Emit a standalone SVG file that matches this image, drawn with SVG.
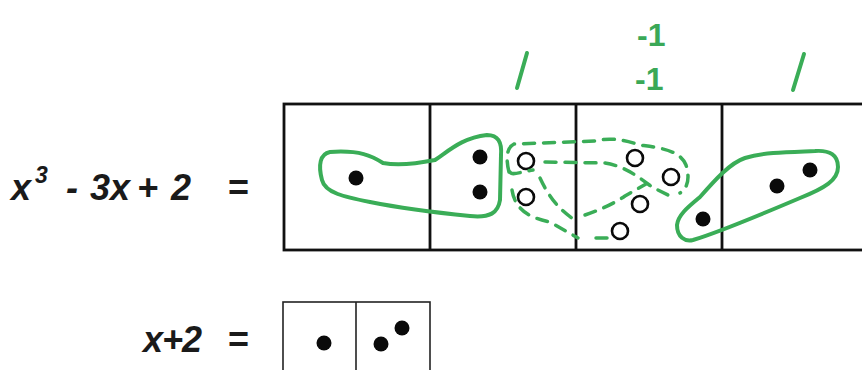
<svg xmlns="http://www.w3.org/2000/svg" width="862" height="370" viewBox="0 0 862 370">
<style>
.eq{font-family:"Liberation Sans",Arial,sans-serif;font-weight:bold;font-style:italic;font-size:36px;fill:#1a1a1a}
.eqn{font-family:"Liberation Sans",Arial,sans-serif;font-weight:bold;font-size:36px;fill:#1a1a1a}
.gt{font-family:"Liberation Sans",Arial,sans-serif;font-weight:bold;font-size:32px;fill:#3aa857}
.box{fill:none;stroke:#111;stroke-width:2.8}
.box2{fill:none;stroke:#222;stroke-width:1.6}
.dot{fill:#0a0a0a}
.ring{fill:#fff;stroke:#0a0a0a;stroke-width:2.6}
.loop{fill:none;stroke:#3aad57;stroke-width:4;stroke-linejoin:round;stroke-linecap:round}
.dash{fill:none;stroke:#3aad57;stroke-width:3.5;stroke-dasharray:11 9;stroke-linecap:round}
</style>
<rect width="862" height="370" fill="#fff"/>
<g id="equation1">
<text class="eq" x="11" y="200">x</text>
<text class="eq" x="35" y="183" style="font-size:23px">3</text>
<text class="eq" x="66" y="200">-</text>
<text class="eq" x="90" y="200">3x</text>
<text class="eq" x="137" y="200">+</text>
<text class="eq" x="171" y="200">2</text>
<text class="eqn" x="228" y="200">=</text>
</g>
<g id="equation2">
<text class="eq" x="143" y="352" letter-spacing="-1">x+2</text>
<text class="eqn" x="228" y="352">=</text>
</g>
<g id="mainbox">
<rect class="box" x="284" y="104" width="600" height="146"/>
<line class="box" x1="430" y1="104" x2="430" y2="250"/>
<line class="box" x1="576" y1="104" x2="576" y2="250"/>
<line class="box" x1="722" y1="104" x2="722" y2="250"/>
<circle class="dot" cx="356" cy="178" r="7.5"/>
<circle class="dot" cx="480" cy="157" r="7.5"/>
<circle class="dot" cx="480" cy="192" r="7.5"/>
<circle class="ring" cx="526" cy="161" r="8"/>
<circle class="ring" cx="526" cy="197" r="8"/>
<circle class="ring" cx="635" cy="158" r="8"/>
<circle class="ring" cx="671" cy="177" r="8"/>
<circle class="ring" cx="640" cy="204" r="8"/>
<circle class="ring" cx="620" cy="231" r="8"/>
<circle class="dot" cx="703" cy="219" r="7.5"/>
<circle class="dot" cx="777" cy="186" r="7.5"/>
<circle class="dot" cx="810" cy="170" r="7.5"/>
</g>
<g id="smallbox">
<rect class="box2" x="283" y="302" width="147" height="80"/>
<line class="box2" x1="356" y1="302" x2="356" y2="372"/>
<circle class="dot" cx="324" cy="343" r="7.5"/>
<circle class="dot" cx="381" cy="344" r="7.5"/>
<circle class="dot" cx="402" cy="328" r="7.5"/>
</g>
<g id="labels">
<text class="gt" x="637" y="46">-1</text>
<text class="gt" x="635" y="90">-1</text>
<line class="loop" x1="527" y1="53" x2="517" y2="88"/>
<line class="loop" x1="804" y1="54" x2="793" y2="90"/>
</g>
<g id="connectors">
<path class="loop" d="M330,152 C360,150 372,156 383,163 C400,166 420,163 435,160 C450,150 462,138 487,135 C498,135 502,142 501,155 L500,200 C498,213 490,218 470,216 C440,213 400,208 370,202 C345,197 325,193 322,180 C318,165 320,154 330,152 Z"/>
<path class="loop" d="M693,240 C720,232 760,215 800,198 C825,188 838,180 838,167 C838,155 830,150 815,151 C790,152 765,152 745,158 C730,163 715,180 700,197 C688,207 678,215 677,225 C677,237 685,242 693,240 Z"/>
<path class="dash" d="M509,172 C506,160 506,148 514,144 L595,141 C610,137 625,140 640,145 C660,148 680,150 686,165 C690,178 688,188 680,193"/>
<path class="dash" d="M545,162 L605,163 C625,166 640,178 652,187 L668,195"/>
<path class="dash" d="M510,172 C512,176 520,172 533,170"/>
<path class="dash" d="M540,178 C548,195 558,210 578,222"/>
<path class="dash" d="M512,190 C515,210 530,218 550,222 L578,238"/>
<path class="dash" d="M585,215 C600,210 615,203 625,196 L646,184"/>
<path class="dash" d="M596,238 L612,238"/>
</g>
</svg>
